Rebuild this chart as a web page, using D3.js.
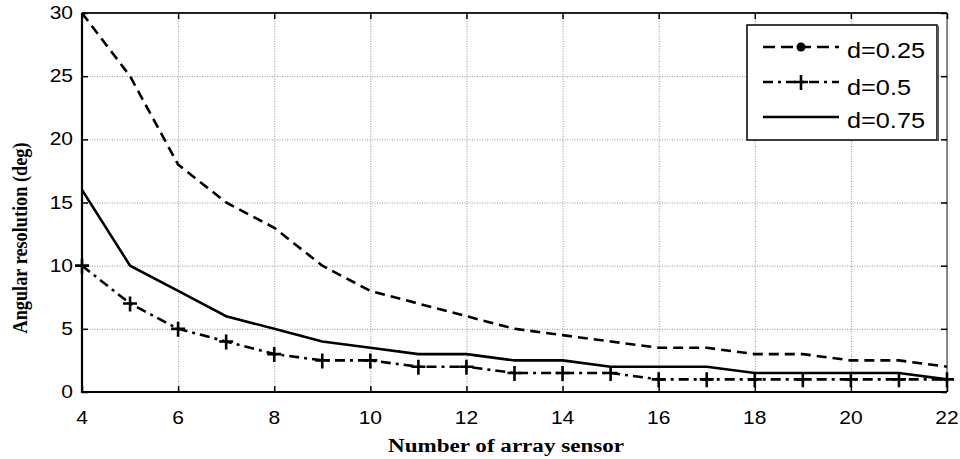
<!DOCTYPE html>
<html><head><meta charset="utf-8">
<script src="https://cdn.jsdelivr.net/npm/d3@7"></script>
<style>body{margin:0;background:#fff}svg{display:block}</style>
</head><body><svg id="c" width="960" height="459"></svg>
<script>
const sensors = [4,5,6,7,8,9,10,11,12,13,14,15,16,17,18,19,20,21,22];
const d025 = [30,25,18,15,13,10,8,7,6,5,4.5,4,3.5,3.5,3,3,2.5,2.5,2];
const d050 = [10,7,5,4,3,2.5,2.5,2,2,1.5,1.5,1.5,1,1,1,1,1,1,1];
const d075 = [16,10,8,6,5,4,3.5,3,3,2.5,2.5,2,2,2,1.5,1.5,1.5,1.5,1];
const xTicks = [4,6,8,10,12,14,16,18,20,22];
const yTicks = [0,5,10,15,20,25,30];
const seriesNames = ["d=0.25","d=0.5","d=0.75"];

const svg = d3.select("#c");
const L=82, R=947, T=13, B=392;
const x = d3.scaleLinear().domain([4,22]).range([L,R]);
const y = d3.scaleLinear().domain([0,30]).range([B,T]);

// grid
const grid = svg.append("g");
grid.append("g").attr("transform",`translate(0,${B})`)
  .call(d3.axisBottom(x).tickValues(xTicks).tickSize(-(B-T)).tickFormat(""))
  .call(g=>g.select(".domain").remove())
  .selectAll("line").attr("stroke","#8a8a8a").attr("stroke-width",0.9).attr("stroke-dasharray","1,1.5");
grid.append("g").attr("transform",`translate(${L},0)`)
  .call(d3.axisLeft(y).tickValues(yTicks).tickSize(-(R-L)).tickFormat(""))
  .call(g=>g.select(".domain").remove())
  .selectAll("line").attr("stroke","#8a8a8a").attr("stroke-width",0.9).attr("stroke-dasharray","1,1.5");

// frame
svg.append("line").attr("x1",L).attr("x2",R).attr("y1",T).attr("y2",T).attr("stroke","#222").attr("stroke-width",2);
svg.append("line").attr("x1",R).attr("x2",R).attr("y1",T).attr("y2",B).attr("stroke","#666").attr("stroke-width",1.5);

// inner ticks
function tk(g){g.select(".domain").remove(); g.selectAll("line").attr("stroke","#000").attr("stroke-width",1.5);}
svg.append("g").attr("transform",`translate(0,${B})`).call(d3.axisBottom(x).tickValues(xTicks).tickSize(-6).tickFormat("")).call(tk);
svg.append("g").attr("transform",`translate(0,${T})`).call(d3.axisTop(x).tickValues(xTicks).tickSize(-6).tickFormat("")).call(tk);
svg.append("g").attr("transform",`translate(${L},0)`).call(d3.axisLeft(y).tickValues(yTicks).tickSize(-6).tickFormat("")).call(tk);
svg.append("g").attr("transform",`translate(${R},0)`).call(d3.axisRight(y).tickValues(yTicks).tickSize(-6).tickFormat("")).call(tk);

// axis lines
svg.append("line").attr("x1",L).attr("x2",L).attr("y1",T).attr("y2",B+1).attr("stroke","#000").attr("stroke-width",2.2);
svg.append("line").attr("x1",L-1).attr("x2",R).attr("y1",B).attr("y2",B).attr("stroke","#000").attr("stroke-width",2.2);

// tick labels
const SX=1.2;
svg.append("g").selectAll("text").data(xTicks).join("text")
  .attr("transform",d=>`translate(${x(d)},424) scale(${SX},1)`)
  .attr("text-anchor","middle").attr("font-family","Liberation Sans, Arial, sans-serif").attr("font-size",17.5)
  .text(d=>d);
svg.append("g").selectAll("text").data(yTicks).join("text")
  .attr("transform",d=>`translate(73,${y(d)+6}) scale(${SX},1)`)
  .attr("text-anchor","end").attr("font-family","Liberation Sans, Arial, sans-serif").attr("font-size",17.5)
  .text(d=>d);

// axis titles
svg.append("text").attr("x",506).attr("y",452).attr("text-anchor","middle")
  .attr("font-family","Liberation Serif, Times New Roman, serif").attr("font-weight","bold").attr("font-size",18)
  .attr("textLength",236).attr("lengthAdjust","spacingAndGlyphs").text("Number of array sensor");
svg.append("text").attr("transform","translate(27,238) rotate(-90)").attr("text-anchor","middle")
  .attr("font-family","Liberation Serif, Times New Roman, serif").attr("font-weight","bold").attr("font-size",20)
  .attr("textLength",191).attr("lengthAdjust","spacingAndGlyphs").text("Angular resolution (deg)");

// lines
const line = d3.line().x(d=>x(d[0])).y(d=>y(d[1]));
const styles = [
  {data:d025, dash:"10,6"},
  {data:d050, dash:"10,5,3,5"},
  {data:d075, dash:null}
];
const plot = svg.append("g");
styles.forEach(s=>{
  plot.append("path").datum(sensors.map((v,i)=>[v,s.data[i]]))
    .attr("d",line).attr("fill","none").attr("stroke","#000").attr("stroke-width",2.6)
    .attr("stroke-dasharray",s.dash);
});
// plus markers
plot.append("g").selectAll("path").data(sensors.map((v,i)=>[v,d050[i]])).join("path")
  .attr("d",d=>`M${x(d[0])-7},${y(d[1])}h14M${x(d[0])},${y(d[1])-7}v15`)
  .attr("stroke","#000").attr("stroke-width",2.6).attr("fill","none");

// legend
const lg = svg.append("g");
lg.append("rect").attr("x",747).attr("y",25).attr("width",190).attr("height",115)
  .attr("fill","#fff").attr("stroke","#000").attr("stroke-width",1.5);
lg.append("line").attr("x1",938).attr("x2",938).attr("y1",26).attr("y2",141).attr("stroke","#555").attr("stroke-width",2);
const rows=[{y:47,ty:58,len:78},{y:82,ty:95,len:64},{y:117,ty:128,len:78}];
rows.forEach((r,i)=>{
  lg.append("line").attr("x1",763).attr("x2",839).attr("y1",r.y).attr("y2",r.y)
    .attr("stroke","#000").attr("stroke-width",2.6).attr("stroke-dasharray",i===0?"12,6":styles[i].dash);
  if(i===0) lg.append("circle").attr("cx",801).attr("cy",r.y).attr("r",4.5).attr("fill","#000");
  if(i===1) lg.append("path").attr("d",`M794,${r.y}h14M801,${r.y-7}v15`).attr("stroke","#000").attr("stroke-width",2.6);
  lg.append("text").attr("x",847).attr("y",r.ty).attr("font-family","Liberation Sans, Arial, sans-serif")
    .attr("font-size",22).attr("textLength",r.len).attr("lengthAdjust","spacingAndGlyphs").text(seriesNames[i]);
});
</script></body></html>
